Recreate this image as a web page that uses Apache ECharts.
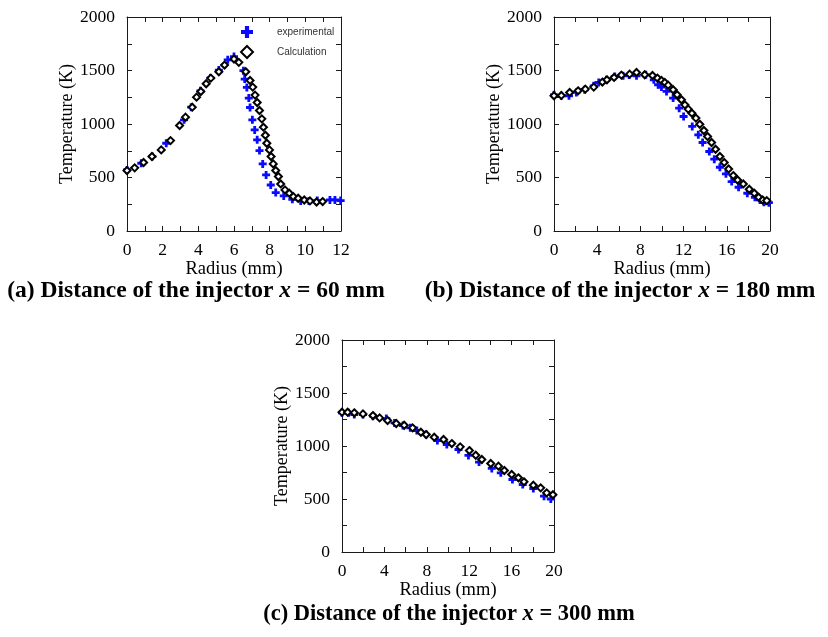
<!DOCTYPE html>
<html>
<head>
<meta charset="utf-8">
<script src="https://cdn.jsdelivr.net/npm/echarts@6/dist/echarts.min.js"></script>
<style>
html,body{margin:0;padding:0;background:#fff;}
#chart{width:828px;height:637px;}
</style>
</head>
<body>
<div id="chart"></div>
<script>
// ---- Panel (a): x = 60 mm ----
const aExpX = [0, 0.8, 1.42, 2.2, 3.2, 3.6, 4.12, 4.68, 5.15, 5.65, 6.0, 6.53, 6.6, 6.72, 6.83, 6.9, 7.03, 7.16, 7.3, 7.43, 7.61, 7.8, 8.06, 8.34, 8.79, 9.27, 9.74, 10.2, 10.67, 11.38, 11.66, 11.98];
const aExpY = [571, 633, 696, 820, 1039, 1157, 1310, 1429, 1504, 1600, 1630, 1498, 1420, 1342, 1242, 1154, 1039, 945, 852, 752, 627, 524, 430, 359, 328, 296, 281, 281, 284, 290, 290, 284];
const aCalcX = [0, 0.43, 0.93, 1.4, 1.92, 2.44, 2.95, 3.28, 3.66, 3.9, 4.14, 4.44, 4.7, 5.15, 5.47, 6.0, 6.27, 6.66, 6.9, 7.05, 7.18, 7.3, 7.43, 7.56, 7.65, 7.76, 7.84, 7.99, 8.08, 8.2, 8.34, 8.49, 8.62, 8.86, 9.1, 9.33, 9.6, 9.94, 10.26, 10.63, 10.97];
const aCalcY = [565, 590, 640, 696, 758, 845, 986, 1064, 1157, 1251, 1304, 1376, 1429, 1488, 1551, 1607, 1576, 1488, 1407, 1345, 1270, 1201, 1126, 1048, 970, 895, 820, 758, 696, 627, 565, 509, 440, 384, 353, 321, 306, 290, 281, 271, 275];

// ---- Panel (b): x = 180 mm ----
const bExpX = [0, 0.68, 1.39, 2.07, 2.84, 3.68, 4.14, 4.85, 5.63, 6.4, 6.96, 7.64, 8.5, 9.24, 9.64, 9.95, 10.42, 11.03, 11.59, 12.0, 12.8, 13.36, 13.76, 14.38, 14.84, 15.36, 15.92, 16.45, 17.09, 17.9, 18.6, 19.07, 19.44, 19.9];
const bExpY = [1273, 1264, 1264, 1295, 1320, 1357, 1388, 1413, 1445, 1451, 1457, 1451, 1460, 1413, 1367, 1345, 1304, 1242, 1148, 1070, 977, 899, 827, 743, 671, 596, 534, 462, 409, 353, 315, 290, 268, 265];
const bCalcX = [0, 0.68, 1.45, 2.23, 2.9, 3.68, 4.48, 4.9, 5.56, 6.24, 7.0, 7.64, 8.4, 9.12, 9.58, 9.95, 10.26, 10.57, 11.03, 11.4, 11.8, 12.12, 12.43, 12.77, 13.14, 13.5, 13.88, 14.22, 14.59, 14.96, 15.36, 15.76, 16.17, 16.6, 17.0, 17.53, 18.08, 18.55, 18.95, 19.32, 19.7];
const bCalcY = [1264, 1267, 1295, 1310, 1326, 1345, 1392, 1413, 1435, 1457, 1466, 1482, 1460, 1454, 1429, 1407, 1388, 1363, 1320, 1273, 1226, 1179, 1139, 1101, 1055, 998, 939, 883, 827, 764, 696, 640, 580, 518, 477, 440, 390, 353, 315, 290, 284];

// ---- Panel (c): x = 300 mm ----
const cExpX = [0, 0.63, 1.16, 1.98, 2.92, 4.18, 4.96, 5.75, 6.44, 7.06, 7.94, 9.0, 9.89, 10.99, 11.93, 12.93, 14.13, 14.98, 16.08, 17.05, 18.05, 19.06, 19.7];
const cExpY = [1313, 1313, 1297, 1297, 1281, 1259, 1218, 1193, 1171, 1146, 1108, 1052, 1014, 967, 911, 848, 788, 747, 684, 637, 599, 527, 500];
const cCalcX = [0, 0.53, 1.16, 1.98, 2.92, 3.55, 4.3, 5.12, 5.87, 6.66, 7.44, 7.94, 8.7, 9.58, 10.36, 11.15, 12.02, 12.62, 13.19, 14.03, 14.76, 15.32, 16.01, 16.64, 17.17, 18.05, 18.74, 19.31, 19.9];
const cCalcY = [1319, 1319, 1313, 1303, 1287, 1265, 1240, 1212, 1196, 1171, 1130, 1108, 1083, 1061, 1023, 992, 957, 913, 873, 835, 810, 769, 731, 700, 662, 630, 605, 558, 540];

// ---- Axis / text ----
const seriesNames = ['experimental', 'Calculation'];
const yTicks = [0, 500, 1000, 1500, 2000];
const xMaxes = [12, 20, 20];
const xIntervals = [2, 4, 4];
const xName = 'Radius (mm)';
const yName = 'Temperature (K)';
const captions = [
  ['(a) Distance of the injector ', 'x', ' = 60 mm'],
  ['(b) Distance of the injector ', 'x', ' = 180 mm'],
  ['(c) Distance of the injector ', 'x', ' = 300 mm']
];

const zip = (xs, ys) => xs.map((x, i) => [x, ys[i]]);
const panels = [
  [zip(aExpX, aExpY), zip(aCalcX, aCalcY)],
  [zip(bExpX, bExpY), zip(bCalcX, bCalcY)],
  [zip(cExpX, cExpY), zip(cCalcX, cCalcY)]
];

const SERIF = '"Liberation Serif","Times New Roman",serif';
const AX = '#1a1a1a';
const crossPath = 'path://M2.6,0H5.4V2.6H8V5.4H5.4V8H2.6V5.4H0V2.6H2.6Z';

const grids = [
  {left: 127, top: 17, width: 214, height: 214},
  {left: 554, top: 17, width: 216, height: 214},
  {left: 342, top: 340, width: 212, height: 212}
];
const captionPos = [[196, 291, 23.5], [620, 291, 23.5], [449, 614, 22.5]];

const xAxes = [], yAxes = [], series = [];
grids.forEach((g, gi) => {
  const tickCommon = {inside: true, length: 5, lineStyle: {color: AX}};
  const minor = {show: true, splitNumber: 2, length: 5, lineStyle: {color: AX}};
  const line = {show: true, onZero: false, lineStyle: {color: AX, width: 1}};
  xAxes.push({
    gridIndex: gi, type: 'value', position: 'bottom', min: 0, max: xMaxes[gi], interval: xIntervals[gi],
    name: xName, nameLocation: 'middle', nameGap: 28,
    nameTextStyle: {fontFamily: SERIF, fontSize: 18.5, color: '#000'},
    axisLine: line, axisTick: tickCommon, minorTick: minor, splitLine: {show: false},
    axisLabel: {fontFamily: SERIF, fontSize: 17.5, color: '#000', margin: 10}
  });
  xAxes.push({
    gridIndex: gi, type: 'value', position: 'top', min: 0, max: xMaxes[gi], interval: xIntervals[gi],
    axisLine: line, axisTick: tickCommon, minorTick: minor, splitLine: {show: false},
    axisLabel: {show: false}
  });
  yAxes.push({
    gridIndex: gi, type: 'value', position: 'left', min: 0, max: 2000, interval: 500,
    name: yName, nameLocation: 'middle', nameGap: 49,
    nameTextStyle: {fontFamily: SERIF, fontSize: 18, color: '#000'},
    axisLine: line, axisTick: tickCommon, minorTick: minor, splitLine: {show: false},
    axisLabel: {fontFamily: SERIF, fontSize: 17.5, color: '#000', margin: 12,
      formatter: v => (yTicks.indexOf(v) >= 0 ? String(v) : '')}
  });
  yAxes.push({
    gridIndex: gi, type: 'value', position: 'right', min: 0, max: 2000, interval: 500,
    axisLine: line, axisTick: tickCommon, minorTick: minor, splitLine: {show: false},
    axisLabel: {show: false}
  });
  series.push({
    name: seriesNames[0], type: 'scatter', xAxisIndex: gi * 2, yAxisIndex: gi * 2,
    symbol: crossPath, symbolSize: 8, data: panels[gi][0],
    itemStyle: {color: '#0a0aff', opacity: 1}, z: 2
  });
  series.push({
    name: seriesNames[1], type: 'scatter', xAxisIndex: gi * 2, yAxisIndex: gi * 2,
    symbol: 'diamond', symbolSize: 7, data: panels[gi][1],
    itemStyle: {color: '#ffffff', borderColor: '#000', borderWidth: 2, opacity: 1}, z: 3
  });
});

const graphics = captions.map((c, i) => ({
  type: 'text', x: captionPos[i][0], y: captionPos[i][1],
  style: {
    text: '{b|' + c[0] + '}{i|' + c[1] + '}{b|' + c[2] + '}',
    align: 'center', verticalAlign: 'middle',
    rich: {
      b: {fontFamily: SERIF, fontWeight: 'bold', fontSize: captionPos[i][2], fill: '#000', color: '#000'},
      i: {fontFamily: SERIF, fontWeight: 'bold', fontStyle: 'italic', fontSize: captionPos[i][2], fill: '#000', color: '#000'}
    }
  }
}));

const chart = echarts.init(document.getElementById('chart'), null, {renderer: 'canvas'});
chart.setOption({
  animation: false,
  backgroundColor: '#fff',
  grid: grids.map(g => Object.assign({containLabel: false}, g)),
  xAxis: xAxes,
  yAxis: yAxes,
  legend: {
    data: seriesNames, orient: 'vertical', left: 235, top: 21,
    itemWidth: 12, itemHeight: 12, itemGap: 7,
    textStyle: {fontFamily: '"Liberation Sans",Arial,sans-serif', fontSize: 10, color: '#333', padding: [0, 0, 0, 19]}
  },
  series: series,
  graphic: graphics
});
</script>
</body>
</html>
